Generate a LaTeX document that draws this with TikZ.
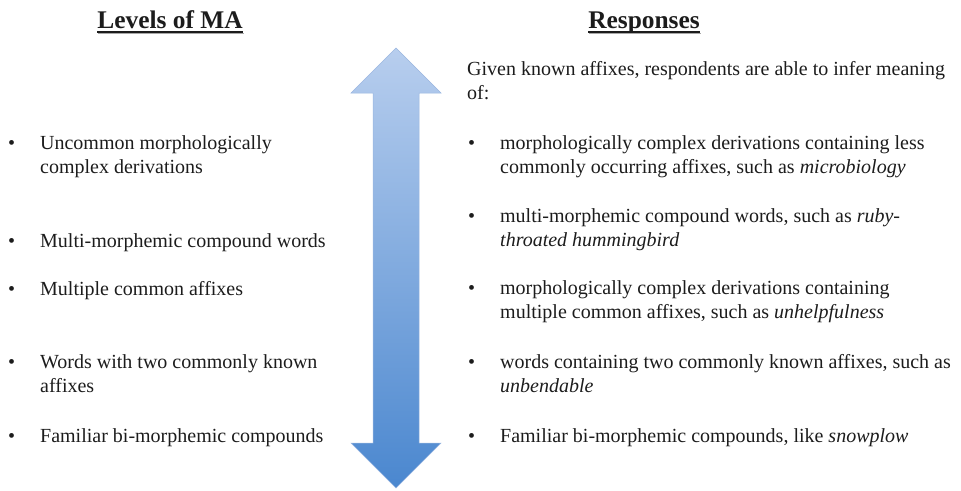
\documentclass[tikz,border=0pt]{standalone}
\usepackage{fontspec}
\setmainfont{Liberation Serif}
\usepackage{xcolor}
\definecolor{ink}{HTML}{1C1C1C}
\definecolor{arrowtop}{HTML}{B8CEEE}
\definecolor{arrowbot}{HTML}{4A87CF}
\definecolor{arrowedge}{HTML}{9AB6E0}
\definecolor{shadowgrey}{HTML}{A8A8A8}
\newcommand{\bitem}[1]{%
  \makebox[32pt][l]{\textbullet}\parbox[t]{480pt}{\raggedright #1}%
}

\begin{document}
\begin{tikzpicture}[x=1pt, y=-1pt,
    every node/.style={inner sep=0pt, text=ink},
    heading/.style={anchor=base, font=\fontsize{25.4}{30}\selectfont\bfseries},
    entry/.style={anchor=base west, font=\fontsize{20}{24}\selectfont}]
  \useasboundingbox (0,0) rectangle (961,490);

  % double arrow in the middle
  \shade[top color=arrowtop, bottom color=arrowbot, draw=arrowedge, line width=0.5pt]
    (396,48) -- (441,93) -- (419,93) -- (419,443) -- (441,443) -- (396,488)
    -- (351,443) -- (373,443) -- (373,93) -- (351,93) -- cycle;

  % column headings
  \node[heading] (lvl) at (170,28) {Levels of MA};
  \node[heading] (resp) at (644,28) {Responses};
  \foreach \h in {lvl,resp} {
    \draw[shadowgrey, line width=1.8pt] ([shift={(1,5.5)}]\h.base west) -- ([shift={(1,5.5)}]\h.base east);
    \draw[ink, line width=1.3pt] ([shift={(0,4)}]\h.base west) -- ([shift={(0,4)}]\h.base east);
  }

  % levels
  \node[entry] (l1) at (8,149) {\bitem{Uncommon morphologically\\complex derivations}};
  \node[entry] (l2) at (8,247) {\bitem{Multi-morphemic compound words}};
  \node[entry] (l3) at (8,295) {\bitem{Multiple common affixes}};
  \node[entry] (l4) at (8,368) {\bitem{Words with two commonly known\\affixes}};
  \node[entry] (l5) at (8,442) {\bitem{Familiar bi-morphemic compounds}};

  % responses
  \node[entry] (intro) at (467,75) {\parbox[t]{510pt}{\raggedright Given known affixes, respondents are able to infer meaning\\of:}};
  \node[entry] (r1) at (468,149) {\bitem{morphologically complex derivations containing less\\commonly occurring affixes, such as \textit{microbiology}}};
  \node[entry] (r2) at (468,222) {\bitem{multi-morphemic compound words, such as \textit{ruby-\\throated hummingbird}}};
  \node[entry] (r3) at (468,294) {\bitem{morphologically complex derivations containing\\multiple common affixes, such as \textit{unhelpfulness}}};
  \node[entry] (r4) at (468,368) {\bitem{words containing two commonly known affixes, such as\\\textit{unbendable}}};
  \node[entry] (r5) at (468,442) {\bitem{Familiar bi-morphemic compounds, like \textit{snowplow}}};
\end{tikzpicture}
\end{document}
